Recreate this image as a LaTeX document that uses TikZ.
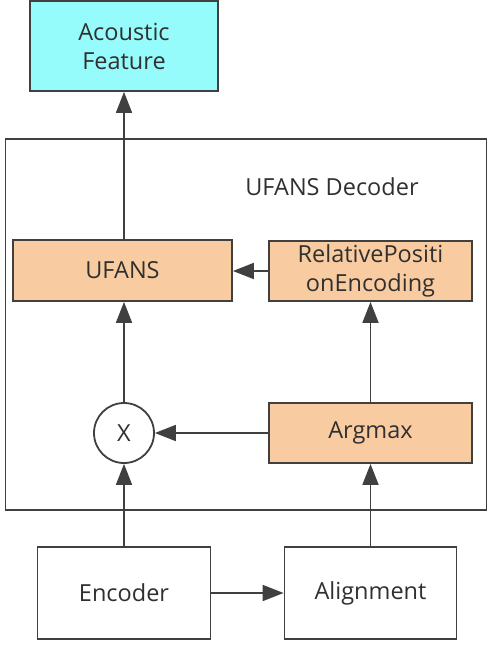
\documentclass[tikz,border=0pt]{standalone}
\usepackage{fontspec}
\setmainfont{Open Sans}
\usetikzlibrary{arrows.meta}
\definecolor{lc}{HTML}{404040}
\definecolor{tc}{HTML}{303030}
\definecolor{cy}{HTML}{96FBFB}
\definecolor{og}{HTML}{F8CCA0}
\begin{document}
\begin{tikzpicture}[x=1pt,y=-1pt,
  every node/.style={text=tc,font=\fontsize{23.5}{29}\selectfont,inner sep=0pt,align=center},
  box/.style={draw=lc,line width=1.8pt,rectangle},
  arr/.style={draw=lc,line width=1.8pt,-{Triangle[length=21pt,width=16pt]}}]
\useasboundingbox (0,0) rectangle (487,648);
\node[box,fill=white,minimum width=481pt,minimum height=371pt] (dec) at (246,324.5) {};
\node at (332,187) (dlab) {UFANS Decoder};
\node[box,fill=cy,minimum width=188pt,minimum height=90pt] (af) at (124,46) {Acoustic\\Feature};
\node[box,fill=og,minimum width=219pt,minimum height=61pt] (uf) at (122.5,270.5) {UFANS};
\node[box,fill=og,minimum width=203pt,minimum height=60pt] (rpe) at (370.5,271) {RelativePositi\\onEncoding};
\node[box,fill=og,minimum width=203pt,minimum height=60pt] (am) at (370.5,433) {Argmax};
\node[draw=lc,line width=1.8pt,circle,fill=white,minimum size=60pt] (x) at (124,433) {X};
\node[box,fill=white,minimum width=173pt,minimum height=92pt] (enc) at (124,593) {Encoder};
\node[box,fill=white,minimum width=172pt,minimum height=92pt] (al) at (370.5,593) {Alignment};
\draw[arr] (uf.north -| af.south) -- (af.south);
\draw[arr] (x.north) -- (x.north |- uf.south);
\draw[arr] (enc.north) -- (x.south);
\draw[arr] (am.west) -- (x.east);
\draw[arr] (rpe.west) -- (rpe.west -| uf.east);
\draw[arr] (am.north) -- (rpe.south);
\draw[arr] (al.north) -- (am.south);
\draw[arr] (enc.east) -- (al.west);
\end{tikzpicture}
\end{document}
